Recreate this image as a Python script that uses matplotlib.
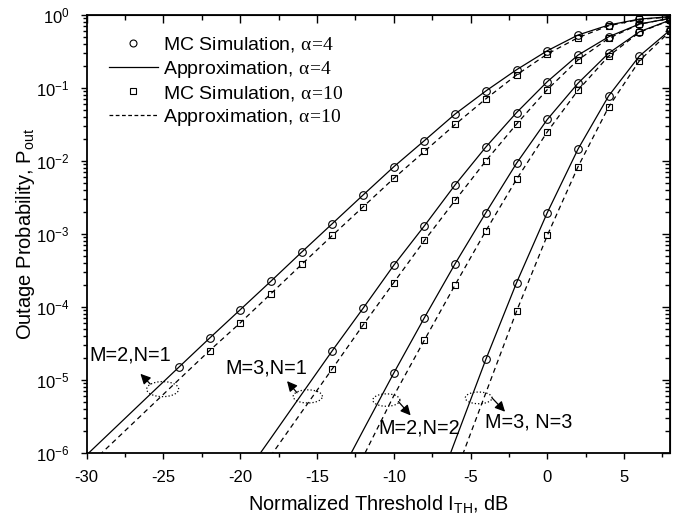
# Outage probability vs normalized threshold, MC simulation against approximation

import numpy as np
import matplotlib
matplotlib.use('Agg')
import matplotlib.pyplot as plt
from matplotlib.lines import Line2D
from matplotlib.ticker import MultipleLocator, NullFormatter, FixedLocator

plt.rcParams['font.family'] = 'Liberation Sans'
plt.rcParams['mathtext.fontset'] = 'custom'
plt.rcParams['mathtext.rm'] = 'Liberation Serif'
plt.rcParams['mathtext.it'] = 'Liberation Serif'
plt.rcParams['mathtext.sf'] = 'Liberation Sans'
plt.rcParams['axes.unicode_minus'] = False

# threshold grid (dB) for each antenna configuration
x_21 = [-30, -28, -26, -24, -22, -20, -18, -16, -14, -12, -10, -8, -6, -4, -2, 0, 2, 4, 6, 8]
x_31 = [-20, -18, -16, -14, -12, -10, -8, -6, -4, -2, 0, 2, 4, 6, 8]
x_22 = [-14, -12, -10, -8, -6, -4, -2, 0, 2, 4, 6, 8]
x_33 = [-8, -6, -4, -2, 0, 2, 4, 6, 8]

# outage probability, alpha = 4
p_21_a4 = [9.3e-7, 2.34e-6, 5.9e-6, 1.48e-5, 3.7e-5, 9.1e-5, 2.24e-4, 5.6e-4, 1.38e-3, 3.4e-3,
           8.3e-3, 1.9e-2, 4.4e-2, 9.1e-2, 0.178, 0.324, 0.532, 0.73, 0.88, 0.95]
p_31_a4 = [4.0e-7, 1.58e-6, 6.3e-6, 2.5e-5, 9.5e-5, 3.7e-4, 1.29e-3, 4.7e-3, 1.55e-2, 4.6e-2,
           0.122, 0.282, 0.504, 0.753, 0.90]
p_22_a4 = [3.2e-7, 2.0e-6, 1.23e-5, 7.1e-5, 3.9e-4, 1.95e-3, 9.3e-3, 3.7e-2, 0.116, 0.30, 0.59, 0.853]
p_33_a4 = [1.1e-7, 1.45e-6, 1.9e-5, 2.14e-4, 1.95e-3, 1.45e-2, 7.8e-2, 0.274, 0.622]

# outage probability, alpha = 10
p_21_a10 = [6.3e-7, 1.58e-6, 3.98e-6, 1.0e-5, 2.5e-5, 6.0e-5, 1.51e-4, 3.8e-4, 9.5e-4, 2.34e-3,
            5.75e-3, 1.35e-2, 3.16e-2, 7.1e-2, 0.151, 0.292, 0.49, 0.713, 0.87, 0.944]
p_31_a10 = [2.3e-7, 9.1e-7, 3.6e-6, 1.41e-5, 5.6e-5, 2.14e-4, 8.1e-4, 2.88e-3, 1.0e-2, 3.2e-2,
            9.5e-2, 0.242, 0.479, 0.75, 0.90]
p_22_a10 = [1.4e-7, 8.7e-7, 6.0e-6, 3.5e-5, 2.0e-4, 1.1e-3, 5.6e-3, 2.5e-2, 9.3e-2, 0.274, 0.58, 0.847]
p_33_a10 = [4.0e-8, 5.0e-7, 6.6e-6, 8.7e-5, 9.5e-4, 8.3e-3, 5.5e-2, 0.236, 0.60]

# first threshold simulated for each curve
sim_start_a4 = {'21': -24, '31': -14, '22': -10, '33': -4}
sim_start_a10 = {'21': -22, '31': -14, '22': -8, '33': -2}

fig = plt.figure(figsize=(6.88, 5.19), dpi=100)
ax = fig.add_axes([0.126, 0.128, 0.848, 0.843])

curves = [('21', x_21, p_21_a4, p_21_a10), ('31', x_31, p_31_a4, p_31_a10),
          ('22', x_22, p_22_a4, p_22_a10), ('33', x_33, p_33_a4, p_33_a10)]

for key, xs, pa4, pa10 in curves:
    xs = np.array(xs)
    pa4 = np.array(pa4)
    pa10 = np.array(pa10)
    ax.plot(xs, pa4, '-', color='black', lw=0.9)
    ax.plot(xs, pa10, '--', color='black', lw=0.9, dashes=(4, 3))
    m4 = xs >= sim_start_a4[key]
    m10 = xs >= sim_start_a10[key]
    ax.plot(xs[m4], pa4[m4], 'o', mfc='none', mec='black', ms=5.5, mew=0.8)
    ax.plot(xs[m10], pa10[m10], 's', mfc='none', mec='black', ms=4.2, mew=0.8)

# dotted ellipses grouping each pair of curves, with arrow and label
notes = [
    ('M=2,N=1', (-27.18, 10**-4.66), (-25.05, -5.13, 1.04, 0.103), (-25.86, -5.06), (-26.5, -4.92)),
    ('M=3,N=1', (-18.32, 10**-4.84), (-15.6, -5.23, 0.95, 0.09), (-16.3, -5.18), (-16.95, -5.02)),
    ('M=2,N=2', (-8.32, 10**-5.665), (-10.48, -5.28, 0.88, 0.085), (-9.7, -5.30), (-8.9, -5.49)),
    ('M=3, N=3', (-1.18, 10**-5.58), (-4.47, -5.25, 0.87, 0.08), (-3.6, -5.25), (-2.75, -5.44)),
]
t = np.linspace(0, 2 * np.pi, 100)
for text, tpos, ell, tail, head in notes:
    cx, cy, a, b = ell
    ax.plot(cx + a * np.cos(t), 10 ** (cy + b * np.sin(t)), ':', color='black', lw=0.9)
    ax.annotate('', xy=(head[0], 10 ** head[1]), xytext=(tail[0], 10 ** tail[1]),
                arrowprops=dict(arrowstyle='-|>', color='black', lw=0.9,
                                mutation_scale=15, shrinkA=0, shrinkB=0))
    ax.text(tpos[0], tpos[1], text, fontsize=14.3, ha='center', va='center')

# only decades inside the plotted range
y_major = [10.0 ** e for e in range(-6, 1)]
y_minor = [k * 10.0 ** e for e in range(-6, 0) for k in range(2, 10)]

ax.set_xlim(-30, 8)
ax.set_yscale('log')
ax.set_ylim(1e-6, 1)
ax.set_xticks(np.arange(-30, 6, 5))
ax.xaxis.set_minor_locator(MultipleLocator(2.5))
ax.yaxis.set_major_locator(FixedLocator(y_major))
ax.yaxis.set_minor_locator(FixedLocator(y_minor))
ax.yaxis.set_minor_formatter(NullFormatter())
ax.tick_params(which='major', direction='out', length=4.5, width=1, labelsize=12, pad=8)
ax.tick_params(which='minor', direction='out', length=3, width=1)
for s in ax.spines.values():
    s.set_linewidth(1.3)

# mirrored ticks on top and right, pointing inward
top = ax.secondary_xaxis('top')
top.set_xticks(np.arange(-30, 6, 5))
top.xaxis.set_minor_locator(MultipleLocator(2.5))
top.tick_params(which='major', direction='in', length=6, width=1, labeltop=False)
top.tick_params(which='minor', direction='in', length=3.5, width=1)
right = ax.secondary_yaxis('right')
right.yaxis.set_major_locator(FixedLocator(y_major))
right.yaxis.set_minor_locator(FixedLocator(y_minor))
right.tick_params(which='major', direction='in', length=6, width=1, labelright=False)
right.tick_params(which='minor', direction='in', length=3.5, width=1)
right.yaxis.set_major_formatter(NullFormatter())
right.yaxis.set_minor_formatter(NullFormatter())

ax.set_xlabel(r'Normalized Threshold I$_{\mathsf{TH}}$, dB', fontsize=14.3, labelpad=6)
ax.set_ylabel(r'Outage Probability, P$_{\mathsf{out}}$', fontsize=14.5, labelpad=-1)

handles = [
    Line2D([], [], ls='none', marker='o', mfc='none', mec='black', ms=5, mew=0.8),
    Line2D([], [], color='black', lw=0.9),
    Line2D([], [], ls='none', marker='s', mfc='none', mec='black', ms=4.2, mew=0.8),
    Line2D([], [], color='black', lw=0.9, ls='--', dashes=(3, 2)),
]
labels = [r'MC Simulation, $\alpha\!=\!4$', r'Approximation, $\alpha\!=\!4$',
          r'MC Simulation, $\alpha\!=\!10$', r'Approximation, $\alpha\!=\!10$']
ax.legend(handles, labels, loc='upper left', bbox_to_anchor=(0.015, 0.985), frameon=False,
          fontsize=14, handlelength=2.5, handletextpad=0.3, labelspacing=0.22, borderpad=0.2)

fig.savefig('out.png', dpi=100)
